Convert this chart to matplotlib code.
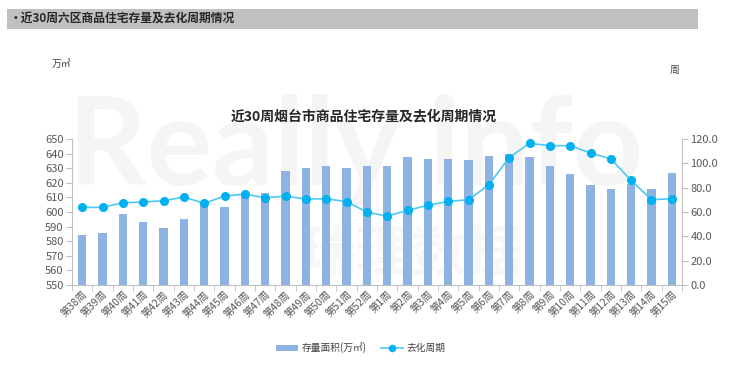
import matplotlib
matplotlib.use("Agg")
import matplotlib.pyplot as plt
import numpy as np
from matplotlib.patches import Rectangle

plt.rcParams['font.family'] = ['Noto Sans CJK SC', 'DejaVu Sans']

weeks = ["第38周", "第39周", "第40周", "第41周", "第42周", "第43周", "第44周", "第45周",
         "第46周", "第47周", "第48周", "第49周", "第50周", "第51周", "第52周",
         "第1周", "第2周", "第3周", "第4周", "第5周", "第6周", "第7周", "第8周",
         "第9周", "第10周", "第11周", "第12周", "第13周", "第14周", "第15周"]
stock = [584.3, 585.7, 598.9, 593.0, 589.3, 595.0, 604.5, 603.2, 612.5, 613.0,
         628.0, 630.2, 631.4, 630.0, 631.8, 631.8, 637.7, 636.6, 636.6, 635.7,
         638.2, 639.5, 637.7, 631.4, 626.1, 618.2, 615.9, 619.5, 615.9, 627.0]
cycle = [63.8, 63.8, 67.6, 68.2, 69.3, 72.3, 67.1, 73.1, 74.7, 71.7,
         73.1, 70.6, 70.9, 68.5, 60.0, 56.5, 61.4, 65.5, 68.7, 70.1,
         82.4, 104.7, 116.5, 114.5, 114.5, 108.5, 103.6, 85.9, 70.1, 70.9]
left_ticks = list(range(550, 651, 10))
right_ticks = [0, 20, 40, 60, 80, 100, 120]

bar_color = '#8db3e2'
line_color = '#00b0f0'
tick_color = '#595959'
spine_color = '#bfbfbf'

fig = plt.figure(figsize=(7.4, 3.72), dpi=100)
W, H = 740, 372

# faint watermark behind everything
fig.text(68 / W, 1 - 150 / H, "Really info", fontsize=88, color='#f5f5f5',
         fontweight='bold', va='center', ha='left', zorder=-5, family='Lato')
fig.text(300 / W, 1 - 255 / H, "瑞理数据", fontsize=40, color='#f7f7f7',
         fontweight='bold', va='center', ha='left', zorder=-5)

# banner
fig.patches.append(Rectangle((7 / W, 1 - 29 / H), (698 - 7) / W, 20 / H,
                             transform=fig.transFigure, facecolor='#c0c0c0',
                             edgecolor='none', zorder=1))
fig.text(10 / W, 1 - 19 / H, "•近30周六区商品住宅存量及去化周期情况", fontsize=8.5,
         color='#262626', fontweight='bold', va='center', ha='left', zorder=2)

left, right, top, bottom = 72, 682, 139, 285
ax = fig.add_axes([left / W, 1 - bottom / H, (right - left) / W, (bottom - top) / H])
ax.patch.set_alpha(0)
x = np.arange(len(weeks))
ax.bar(x, [s - 550 for s in stock], bottom=550, width=0.42, color=bar_color,
       label='存量面积(万㎡)', zorder=2)
ax.set_ylim(550, 650)
ax.set_xlim(-0.5, len(weeks) - 0.5)
ax.set_yticks(left_ticks)
ax.set_yticklabels([str(v) for v in left_ticks])
ax.set_xticks(x)
ax.set_xticklabels(weeks, rotation=45, ha='right', rotation_mode='anchor')
ax.set_xticks(np.arange(-0.5, len(weeks), 1), minor=True)
ax.tick_params(axis='x', which='major', length=0, labelsize=7.5, colors=tick_color, pad=3)
ax.tick_params(axis='x', which='minor', length=4, color=spine_color)
ax.tick_params(axis='y', length=4, color=spine_color, labelsize=8, colors=tick_color, pad=2)
for s in ['top', 'right']:
    ax.spines[s].set_visible(False)
for s in ['left', 'bottom']:
    ax.spines[s].set_color(spine_color)

ax2 = ax.twinx()
ax2.plot(x, cycle, color='#4fc8f5', lw=1.2, marker='o', markersize=5.5,
         markerfacecolor=line_color, markeredgecolor=line_color, label='去化周期', zorder=3)
ax2.set_ylim(0, 120)
ax2.set_yticks(right_ticks)
ax2.set_yticklabels([f"{v:.1f}" for v in right_ticks])
ax2.tick_params(axis='y', length=4, color=spine_color, labelsize=8, colors=tick_color, pad=2)
for s in ['top', 'left', 'bottom']:
    ax2.spines[s].set_visible(False)
ax2.spines['right'].set_color(spine_color)

fig.text(364 / W, 1 - 116 / H, "近30周烟台市商品住宅存量及去化周期情况", fontsize=10,
         color='#262626', fontweight='bold', ha='center', va='center')
fig.text(52 / W, 1 - 64 / H, "万㎡", fontsize=7, color='#404040', ha='left', va='center')
fig.text(670 / W, 1 - 70 / H, "周", fontsize=7, color='#404040', ha='left', va='center')

h1, l1 = ax.get_legend_handles_labels()
h2, l2 = ax2.get_legend_handles_labels()
leg = fig.legend(h1 + h2, l1 + l2, loc='center', bbox_to_anchor=(361 / W, 1 - 348 / H),
                 ncol=2, frameon=False, fontsize=7, handlelength=2.2, handletextpad=0.4,
                 columnspacing=1.5, labelcolor='#404040', markerscale=0.8)

fig.savefig("out.png", dpi=100)
